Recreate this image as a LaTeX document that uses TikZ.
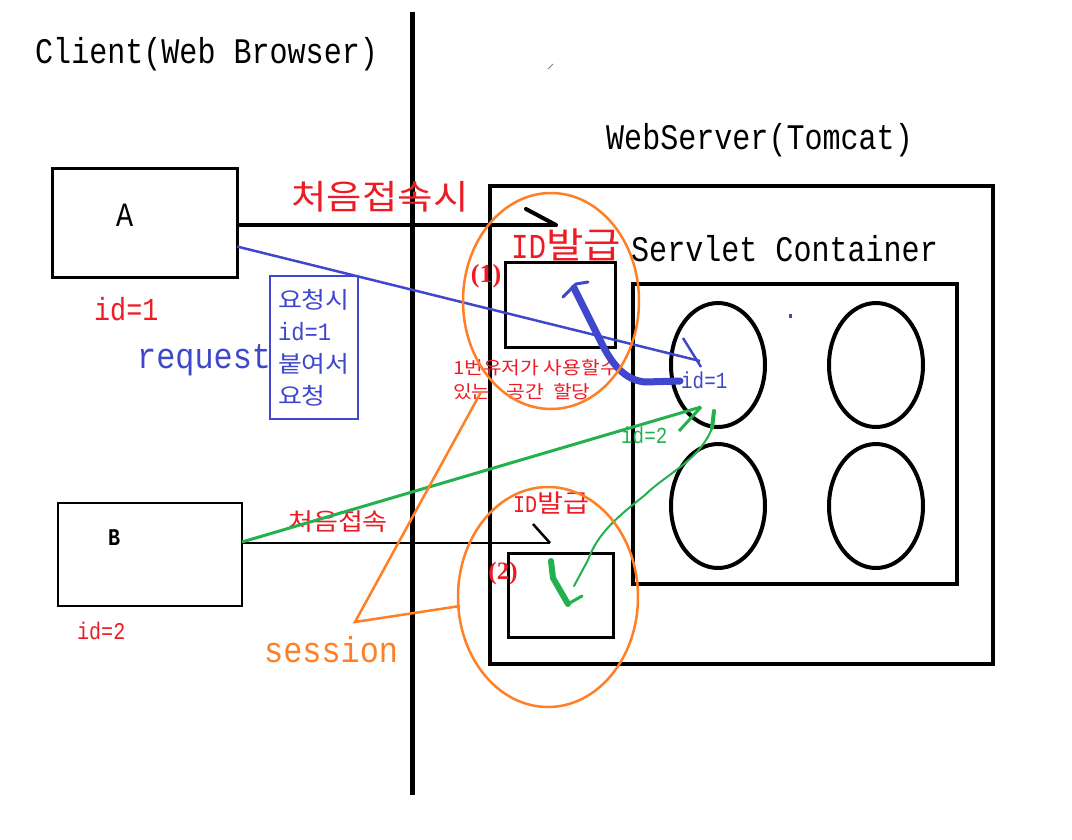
\documentclass[tikz,border=0pt]{standalone}
\usepackage{fontspec}
\setmainfont{Noto Sans CJK KR}
\newfontfamily\monof[FakeStretch=0.835]{Liberation Mono}
\newfontfamily\monow[FakeStretch=0.885]{Liberation Mono}
\newfontfamily\krf[FakeStretch=1.13]{Noto Sans CJK KR}
\newfontfamily\seriff{Liberation Serif}
\usetikzlibrary{shapes.geometric}
\definecolor{pred}{HTML}{ED1C24}
\definecolor{pblue}{HTML}{3F48CC}
\definecolor{pgreen}{HTML}{22B14C}
\definecolor{porange}{HTML}{FF7F27}
\begin{document}
\begin{tikzpicture}[x=1pt,y=-1pt,
  lbl/.style={inner sep=0pt, anchor=base west},
  boxn/.style={draw, inner sep=0pt, outer sep=0pt},
  oval/.style={draw, ellipse, inner sep=0pt, outer sep=0pt, line width=4pt, minimum width=94pt, minimum height=124pt},
  sess/.style={draw=porange, ellipse, line width=2.5pt, inner sep=0pt, outer sep=0pt},
  mono/.style={font=\monof\fontsize{#1}{#1}\selectfont},
  monow/.style={font=\monow\fontsize{#1}{#1}\selectfont},
  kr/.style={font=\krf\fontsize{#1}{#1}\selectfont}
]
\fill[white] (0,0) rectangle (1072,839);
\useasboundingbox (0,0) rectangle (1072,839);

% divider
\coordinate (vtop) at (412,12);
\coordinate (vbot) at (412,795);
\draw[line width=5pt] (vtop) -- (vbot);
\coordinate (m1) at (548,69);
\coordinate (m2) at (553,64);
\draw[gray, line width=1pt] (m1) -- (m2);

% titles
\node[lbl, mono=36] (client) at (35,63) {Client(Web Browser)};
\node[lbl, mono=36] (web) at (606,149) {WebServer(Tomcat)};
\node[lbl, mono=36] (servlet) at (631,261) {Servlet Container};

% server & container
\node[boxn, line width=4pt, minimum width=503pt, minimum height=478pt] (server) at (741.5,425) {};
\node[boxn, line width=4pt, minimum width=324pt, minimum height=300pt] (cont) at (795,434) {};
\node[oval] (e1) at (718,365) {};
\node[oval] (e2) at (876,365) {};
\node[oval] (e3) at (718,506) {};
\node[oval] (e4) at (876,506) {};
\node[fill=pblue, inner sep=0pt, minimum width=3pt, minimum height=4pt] (dot) at (790,316) {};

% session boxes
\node[boxn, line width=3pt, minimum width=110pt, minimum height=85pt] (s1) at (560,304.5) {};
\node[boxn, line width=3pt, minimum width=105pt, minimum height=84pt] (s2) at (561,595.5) {};

% clients
\node[boxn, line width=3pt, minimum width=185pt, minimum height=109pt] (A) at (144.5,222.5) {};
\node[lbl, mono=34] (Alab) at (116,226) {A};
\node[lbl, mono=32, text=pred] (Aid) at (94,320) {id=1};
\node[boxn, line width=2.5pt, minimum width=184pt, minimum height=103pt] (B) at (150,554.5) {};
\node[lbl, font=\monof\bfseries\fontsize{24}{24}\selectfont] (Blab) at (108,545) {B};
\node[lbl, mono=24, text=pred] (Bid) at (77,639) {id=2};

% first-access arrow from A
\coordinate (ah) at (556,227);
\coordinate (ahs) at (526,209);
\draw[line width=4pt] ([yshift=-2.5pt]A.east) -- (ah |- 0,225) coordinate (aend);
\draw[line width=4pt, line cap=round] (ahs) -- (aend);
\node[kr=34, text=pred] (first) at (380,197) {처음접속시};
\node[anchor=west, inner sep=0pt, text=pred] (id1) at (511,245) {{\monof\fontsize{35}{35}\selectfont ID}{\krf\fontsize{36}{36}\selectfont 발급}};
\node[font=\seriff\bfseries\fontsize{26}{26}\selectfont, text=pred, inner sep=0pt] (p1) at (486,276) {(1)};
\node[anchor=north west, align=left, inner sep=0pt, kr=18, text=pred] (alloc) at (453,359) {1번유저가 사용할수\\[6pt]있는\hspace{16pt}공간\hspace{9pt}할당};

% request from A (blue)
\coordinate (bend) at (700,361);
\coordinate (bhs) at (683,338);
\coordinate (bhe) at (701,367);
\draw[pblue, line width=2.5pt] ([yshift=-24pt]A.east) -- (bend);
\draw[pblue, line width=2.5pt] (bhs) -- (bhe);
\node[lbl, monow=36, text=pblue] (req) at (137,368) {request};
\node[boxn, draw=pblue, line width=2.5pt, minimum width=88pt, minimum height=143pt, text width=72pt, inner sep=8pt, align=left, text=pblue, font=\krf\fontsize{23}{32}\selectfont] (note) at (314,347.5) {요청시\\{\monow\fontsize{25}{25}\selectfont id=1}\\붙여서\\요청};
\node[lbl, mono=23, text=pblue] (bid1) at (681,388) {id=1};

% thick blue freehand
\coordinate (f1) at (680,381);
\coordinate (f2) at (645,382);
\coordinate (f3) at (600,340);
\coordinate (f4) at (574,288);
\draw[pblue, line width=7pt, line cap=round, line join=round] (f1) -- (f2) .. controls (625,380) and (612,365) .. (f3) -- (f4);
\coordinate (t1) at (563,297);
\coordinate (t2) at (576,284);
\coordinate (t3) at (588,282);
\draw[pblue, line width=3pt, line cap=round, line join=round] (t1) -- (t2) -- (t3);

% B first access (black)
\coordinate (kh) at (550,543);
\coordinate (khs) at (533,524);
\draw[line width=2.5pt] ([yshift=11.5pt]B.east) -- (kh);
\draw[line width=2.5pt] (khs) -- (kh);
\node[kr=24, text=pred] (first2) at (338,522) {처음접속};
\node[anchor=west, inner sep=0pt, text=pred] (id2) at (513,503) {{\monof\fontsize{24}{24}\selectfont ID}{\krf\fontsize{25}{25}\selectfont 발급}};
\node[font=\seriff\bfseries\fontsize{25}{25}\selectfont, text=pred, inner sep=0pt] (p2) at (503,573) {(2)};

% green request from B
\coordinate (gend) at (701,407);
\coordinate (ghs) at (679,431);
\draw[pgreen, line width=3pt] ([yshift=12.5pt]B.east) -- (gend);
\draw[pgreen, line width=3pt] (ghs) -- (gend);
\node[lbl, mono=23, text=pgreen] (gid2) at (621,443) {id=2};

% green freehand
\coordinate (g1) at (714,411);
\coordinate (g2) at (712,428);
\coordinate (g3) at (645,495);
\coordinate (g4) at (588,560);
\coordinate (g5) at (574,586);
\draw[pgreen, line width=4pt, line cap=round] (g1) -- (g2);
\draw[pgreen, line width=2pt, line cap=round] (g2) .. controls (700,460) and (665,475) .. (g3) .. controls (620,515) and (598,532) .. (g4) -- (g5);
\coordinate (h1) at (551,561);
\coordinate (h2) at (553,578);
\coordinate (h3) at (568,604);
\coordinate (h4) at (582,596);
\draw[pgreen, line width=6pt, line cap=round, line join=round] (h1) -- (h2) -- (h3);
\draw[pgreen, line width=3pt, line cap=round] (h3) -- (h4);

% sessions
\node[sess, minimum width=176pt, minimum height=216pt] (o1) at (551,301) {};
\node[sess, minimum width=180pt, minimum height=220pt] (o2) at (548,597) {};
\coordinate (sp) at (355,622);
\coordinate (sa) at (481,392);
\coordinate (sb) at (460,606);
\draw[porange, line width=2.5pt, line join=miter] (sa) -- (sp) -- (sb);
\node[lbl, monow=36, text=porange] (session) at (264,662) {session};
\end{tikzpicture}
\end{document}
